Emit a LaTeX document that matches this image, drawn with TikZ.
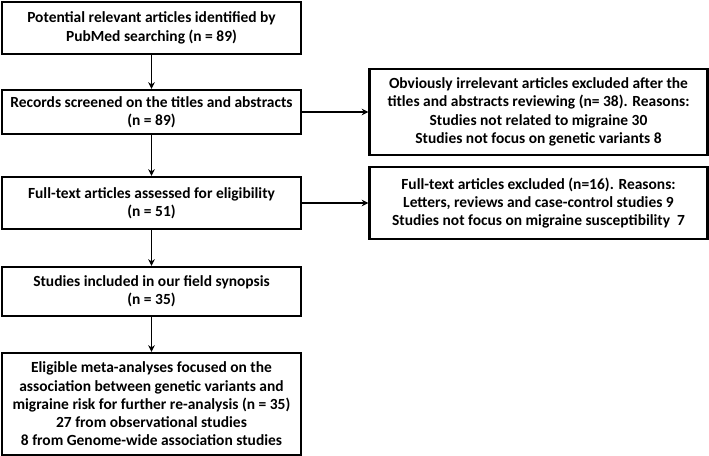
\documentclass[tikz,border=0pt]{standalone}
\usepackage{fontspec}
\setmainfont{Carlito}
\usetikzlibrary{arrows.meta}
\begin{document}
\begin{tikzpicture}[x=0.75pt,y=-0.75pt,
  box/.style={draw,line width=1.7pt,inner sep=0pt,align=center,font=\bfseries\fontsize{11.6}{13.7}\selectfont},
  arr/.style={line width=1.4pt,-{Stealth[length=5pt,width=5pt]}}]
\useasboundingbox (0,0) rectangle (709,456);
\node[box,minimum width=299*0.75pt,minimum height=52*0.75pt] (b1) at (151.5,28) {Potential relevant articles identified by\\PubMed searching (n = 89)};
\node[box,minimum width=299*0.75pt,minimum height=44*0.75pt] (b2) at (151.5,112) {Records screened on the titles and abstracts\\(n = 89)};
\node[box,minimum width=299*0.75pt,minimum height=52*0.75pt] (b3) at (151.5,203) {Full-text articles assessed for eligibility\\(n = 51)};
\node[box,minimum width=299*0.75pt,minimum height=49*0.75pt] (b4) at (151.5,291.5) {Studies included in our field synopsis\\(n = 35)};
\node[box,minimum width=299*0.75pt,minimum height=102*0.75pt] (b5) at (151.5,404) {Eligible meta-analyses focused on the\\association between genetic variants and\\migraine risk for further re-analysis (n = 35)\\27 from observational studies\\8 from Genome-wide association studies};
\node[box,minimum width=338*0.75pt,minimum height=86*0.75pt] (r1) at (538.5,112) {Obviously irrelevant articles excluded after the\\titles and abstracts reviewing (n= 38). Reasons:\\Studies not related to migraine 30\\Studies not focus on genetic variants 8};
\node[box,minimum width=338*0.75pt,minimum height=72*0.75pt] (r2) at (538.5,203) {Full-text articles excluded (n=16). Reasons:\\Letters, reviews and case-control studies 9\\Studies not focus on migraine susceptibility~~7};
\draw[arr] (b1) -- (b2);
\draw[arr] (b2) -- (b3);
\draw[arr] (b3) -- (b4);
\draw[arr] (b4) -- (b5);
\draw[arr] (b2) -- (r1);
\draw[arr] (b3) -- (r2);
\end{tikzpicture}
\end{document}
